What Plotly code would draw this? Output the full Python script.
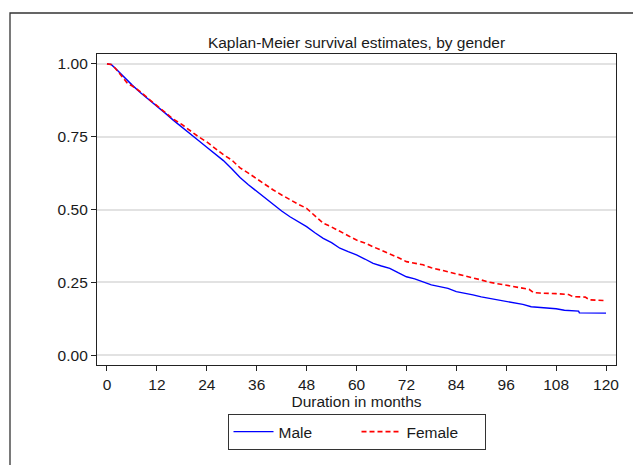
import plotly.graph_objects as go

# Kaplan-Meier estimates (months, survival)
male_t = [0, 1, 2, 4, 6, 8, 10, 12, 14, 16, 18, 20, 22, 24, 26, 28, 30, 32, 34, 36,
          38, 40, 42, 44, 46, 48, 50, 52, 54, 56, 58, 60, 62, 64, 66, 68, 70, 72,
          74, 76, 78, 80, 82, 84, 86, 88, 90, 92, 94, 96, 98, 100, 102, 104, 106,
          108, 110, 112, 113.4, 113.6, 116, 120]
male_s = [1.000, 0.998, 0.985, 0.955, 0.928, 0.902, 0.879, 0.855, 0.831, 0.806,
          0.782, 0.758, 0.737, 0.714, 0.690, 0.668, 0.640, 0.610, 0.585, 0.562,
          0.540, 0.515, 0.495, 0.475, 0.458, 0.441, 0.420, 0.401, 0.386, 0.367,
          0.355, 0.344, 0.330, 0.315, 0.306, 0.298, 0.283, 0.269, 0.262, 0.252,
          0.241, 0.235, 0.229, 0.218, 0.213, 0.207, 0.200, 0.195, 0.189, 0.184,
          0.179, 0.174, 0.166, 0.164, 0.161, 0.159, 0.154, 0.152, 0.151, 0.145,
          0.145, 0.144]

female_t = [0, 1, 2, 4, 5, 6, 8, 10, 12, 14, 16, 18, 20, 22, 24, 26, 28, 30, 32, 34,
            36, 38, 40, 42, 44, 46, 48, 50, 52, 54, 56, 58, 60, 62, 64, 66, 68, 70,
            72, 74, 76, 78, 80, 82, 84, 86, 88, 90, 92, 94, 96, 98, 100, 101.5,
            102.5, 104, 108, 111, 112, 115, 116, 120]
female_s = [1.000, 0.998, 0.985, 0.950, 0.932, 0.925, 0.905, 0.880, 0.857, 0.833,
            0.810, 0.792, 0.770, 0.750, 0.732, 0.710, 0.688, 0.670, 0.643, 0.625,
            0.605, 0.588, 0.567, 0.550, 0.533, 0.518, 0.504, 0.478, 0.453, 0.440,
            0.424, 0.410, 0.395, 0.385, 0.372, 0.360, 0.349, 0.335, 0.321, 0.315,
            0.310, 0.300, 0.293, 0.288, 0.281, 0.272, 0.265, 0.258, 0.250, 0.245,
            0.239, 0.235, 0.231, 0.226, 0.215, 0.213, 0.211, 0.208, 0.201, 0.199,
            0.190, 0.187]

x_ticks = [0, 12, 24, 36, 48, 60, 72, 84, 96, 108, 120]
y_ticks = [0, 0.25, 0.5, 0.75, 1.0]

FONT = "Liberation Sans, Arial, sans-serif"
FS = 15.5
TXT = "#1a1a1a"

fig = go.Figure()
fig.add_trace(go.Scatter(x=male_t, y=male_s, mode="lines", name="Male",
                         line=dict(color="#0000ff", width=1.4)))
fig.add_trace(go.Scatter(x=female_t, y=female_s, mode="lines", name="Female",
                         line=dict(color="#ff0000", width=1.6, dash="5px,3px")))

W, H = 633, 465
L, R, T, B = 97, 17, 54, 100
pw, ph = W - L - R, H - T - B

def px2paper_x(px):
    return (px - L) / pw

def py2paper_y(py):
    return (H - B - py) / ph

fig.update_layout(
    width=W, height=H,
    margin=dict(l=L, r=R, t=T, b=B),
    paper_bgcolor="white", plot_bgcolor="white",
    font=dict(family=FONT, size=FS, color=TXT),
    title=dict(text="Kaplan-Meier survival estimates, by gender",
               x=0.5, xref="paper", y=(H - 43) / H, yref="container",
               xanchor="center", yanchor="middle",
               font=dict(family=FONT, size=FS, color=TXT)),
    showlegend=True,
    legend=dict(orientation="h", x=0.5, xanchor="center",
                y=py2paper_y(414), yanchor="top",
                bordercolor="#333333", borderwidth=1,
                font=dict(family=FONT, size=FS, color=TXT),
                itemwidth=40, entrywidth=73, entrywidthmode="pixels",
                traceorder="normal"),
    xaxis=dict(range=[-2.4, 122.4], tickvals=x_ticks,
               ticktext=[str(v) for v in x_ticks],
               showgrid=False, zeroline=False,
               showline=True, linecolor="#222222", linewidth=1.3, mirror=True,
               ticks="outside", ticklen=5, tickcolor="#222222", tickwidth=1,
               tickfont=dict(family=FONT, size=FS, color=TXT),
               title=dict(text="Duration in months", standoff=0,
                          font=dict(family=FONT, size=FS, color=TXT))),
    yaxis=dict(range=[-0.034, 1.034], tickvals=y_ticks, tickformat=".2f",
               showgrid=True, gridcolor="#e2e2e2", gridwidth=1.5,
               zeroline=False,
               showline=True, linecolor="#222222", linewidth=1.3, mirror=True,
               ticks="outside", ticklen=5, tickcolor="#222222", tickwidth=1,
               tickfont=dict(family=FONT, size=FS, color=TXT)),
    shapes=[dict(type="rect", xref="paper", yref="paper",
                 x0=px2paper_x(10), x1=px2paper_x(645),
                 y0=py2paper_y(480), y1=py2paper_y(13),
                 line=dict(color="#333333", width=1.3), layer="below")],
)

fig.write_html("out.html")
